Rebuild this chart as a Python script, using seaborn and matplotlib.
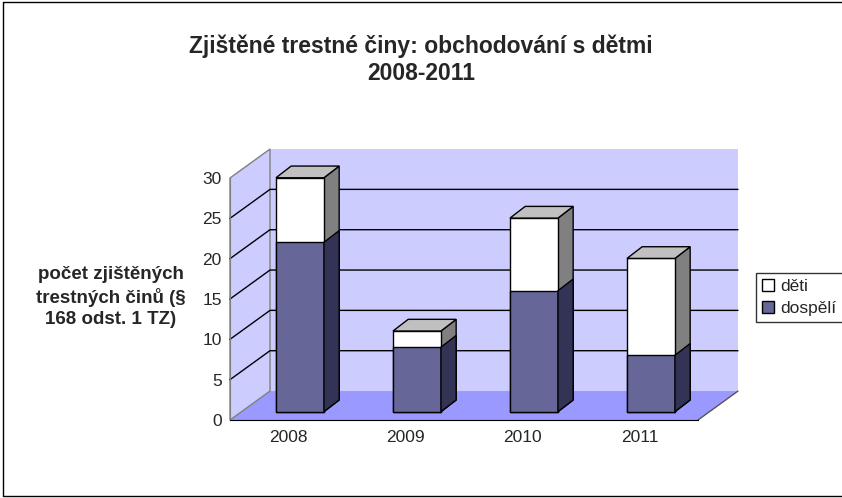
import numpy as np
import pandas as pd
import matplotlib
matplotlib.use("Agg")
import matplotlib.pyplot as plt
from matplotlib.patches import Polygon, Rectangle
from matplotlib.lines import Line2D
import seaborn as sns

# data
years = ["2008", "2009", "2010", "2011"]
adults = [21, 8, 15, 7]     # dospělí
children = [8, 2, 9, 12]    # děti
y_ticks = [0, 5, 10, 15, 20, 25, 30]

title = "Zjištěné trestné činy: obchodování s dětmi\n2008-2011"
y_label = "počet zjištěných\ntrestných činů (§\n168 odst. 1 TZ)"

# 3D look, in data units of the front plane
WALL_DX, WALL_DY = 0.342, 3.59     # depth of the floor / walls
BAR_DX, BAR_DY = 0.098, 1.03       # bar front face sits a bit inside
SIDE_DX, SIDE_DY = 0.13, 1.45      # bar depth
BAR_W = 0.41

C_WALL = "#CCCCFF"
C_FLOOR = "#9999FF"
C_ADULT = "#666699"
C_ADULT_SIDE = "#333355"
C_CHILD = "#FFFFFF"
C_CHILD_SIDE = "#808080"
C_TOP = "#C0C0C0"

sns.set_style("white")
plt.rcParams["font.family"] = ["Liberation Sans", "DejaVu Sans"]

df = pd.DataFrame({"year": years, "dospělí": adults, "děti": children})
df["total"] = df["dospělí"] + df["děti"]

fig = plt.figure(figsize=(8.42, 4.98), dpi=100)
ax = fig.add_axes([230 / 842, 78 / 498, 468 / 842, 242 / 498])
ax.set_xlim(-0.5, 3.5)
ax.set_ylim(0, 30)

x0, x1 = -0.5, 3.5
ytop = y_ticks[-1]

# floor and walls
ax.add_patch(Polygon([(x0, 0), (x1, 0), (x1 + WALL_DX, WALL_DY), (x0 + WALL_DX, WALL_DY)],
                     closed=True, fc=C_FLOOR, ec="none", zorder=0, clip_on=False))
ax.add_patch(Polygon([(x0 + WALL_DX, WALL_DY), (x1 + WALL_DX, WALL_DY),
                      (x1 + WALL_DX, ytop + WALL_DY), (x0 + WALL_DX, ytop + WALL_DY)],
                     closed=True, fc=C_WALL, ec="none", zorder=0, clip_on=False))
ax.add_patch(Polygon([(x0, 0), (x0 + WALL_DX, WALL_DY), (x0 + WALL_DX, ytop + WALL_DY), (x0, ytop)],
                     closed=True, fc=C_WALL, ec="#808080", lw=1, zorder=0.5, clip_on=False))
ax.plot([x1, x1 + WALL_DX], [0, WALL_DY], color="#555555", lw=1, zorder=0.6, clip_on=False)

for v in y_ticks[1:-1]:
    ax.plot([x0, x0 + WALL_DX, x1 + WALL_DX], [v, v + WALL_DY, v + WALL_DY],
            color="black", lw=1, zorder=0.6, clip_on=False)

# bars: total (děti on top) first, then dospělí over it
n0 = len(ax.patches)
sns.barplot(data=df, x="year", y="total", color=C_CHILD, width=BAR_W, saturation=1,
            edgecolor="black", linewidth=1, ax=ax, zorder=2)
child_bars = ax.patches[n0:]
n1 = len(ax.patches)
sns.barplot(data=df, x="year", y="dospělí", color=C_ADULT, width=BAR_W, saturation=1,
            edgecolor="black", linewidth=1, ax=ax, zorder=2.1)
adult_bars = ax.patches[n1:]

for p in list(child_bars) + list(adult_bars):
    p.set_x(p.get_x() + BAR_DX)
    p.set_y(p.get_y() + BAR_DY)
    p.set_clip_on(False)


def side_face(p, color, z):
    x = p.get_x() + p.get_width()
    ya, yb = p.get_y(), p.get_y() + p.get_height()
    ax.add_patch(Polygon([(x, ya), (x + SIDE_DX, ya + SIDE_DY), (x + SIDE_DX, yb + SIDE_DY), (x, yb)],
                         closed=True, fc=color, ec="black", lw=1, zorder=z, clip_on=False))


for pc, pa in zip(child_bars, adult_bars):
    side_face(pc, C_CHILD_SIDE, 1.9)
    side_face(pa, C_ADULT_SIDE, 2.2)
    xl, w = pc.get_x(), pc.get_width()
    yt = pc.get_y() + pc.get_height()
    ax.add_patch(Polygon([(xl, yt), (xl + w, yt), (xl + w + SIDE_DX, yt + SIDE_DY), (xl + SIDE_DX, yt + SIDE_DY)],
                         closed=True, fc=C_TOP, ec="black", lw=1, zorder=2.3, clip_on=False))

# axes
ax.set_yticks(y_ticks)
ax.set_xticks(range(len(years)))
ax.set_xticklabels(years)
ax.set_xticks([0.5, 1.5, 2.5, 3.5], minor=True)
ax.tick_params(axis="x", which="major", length=0, pad=7, labelsize=12.5)
ax.tick_params(axis="x", which="minor", length=5, direction="out", color="black")
ax.tick_params(axis="y", length=5, direction="out", color="#808080", labelsize=12.5, pad=1)
ax.set_xlabel("")
ax.set_ylabel("")
for s in ["top", "right"]:
    ax.spines[s].set_visible(False)
ax.spines["left"].set_color("#808080")
ax.spines["bottom"].set_color("black")
ax.patch.set_visible(False)

fig.text(0.5, 1 - 60 / 498, title, ha="center", va="center", fontsize=16.5, fontweight="bold", linespacing=1.25)
fig.text(111 / 842, 1 - 297 / 498, y_label, ha="center", va="center", fontsize=13.5, fontweight="bold",
         linespacing=1.3)

handles = [Rectangle((0, 0), 1, 1, fc=C_CHILD, ec="black", lw=1),
           Rectangle((0, 0), 1, 1, fc=C_ADULT, ec="black", lw=1)]
leg = fig.legend(handles, ["děti", "dospělí"], loc="upper left", bbox_to_anchor=(756 / 842, 1 - 273 / 498),
                 frameon=True, fancybox=False, edgecolor="black", fontsize=12.5, handlelength=0.7,
                 handleheight=0.7, handletextpad=0.35, borderpad=0.35, labelspacing=0.4, borderaxespad=0)
leg.get_frame().set_linewidth(1)

# chart border
for xs, ys in [([0.003, 1.0], [0.996, 0.996]), ([0.003, 0.003], [0.004, 0.996]), ([0.003, 1.0], [0.004, 0.004])]:
    fig.add_artist(Line2D(xs, ys, color="black", lw=1, transform=fig.transFigure))

fig.savefig("out.png", dpi=100)
